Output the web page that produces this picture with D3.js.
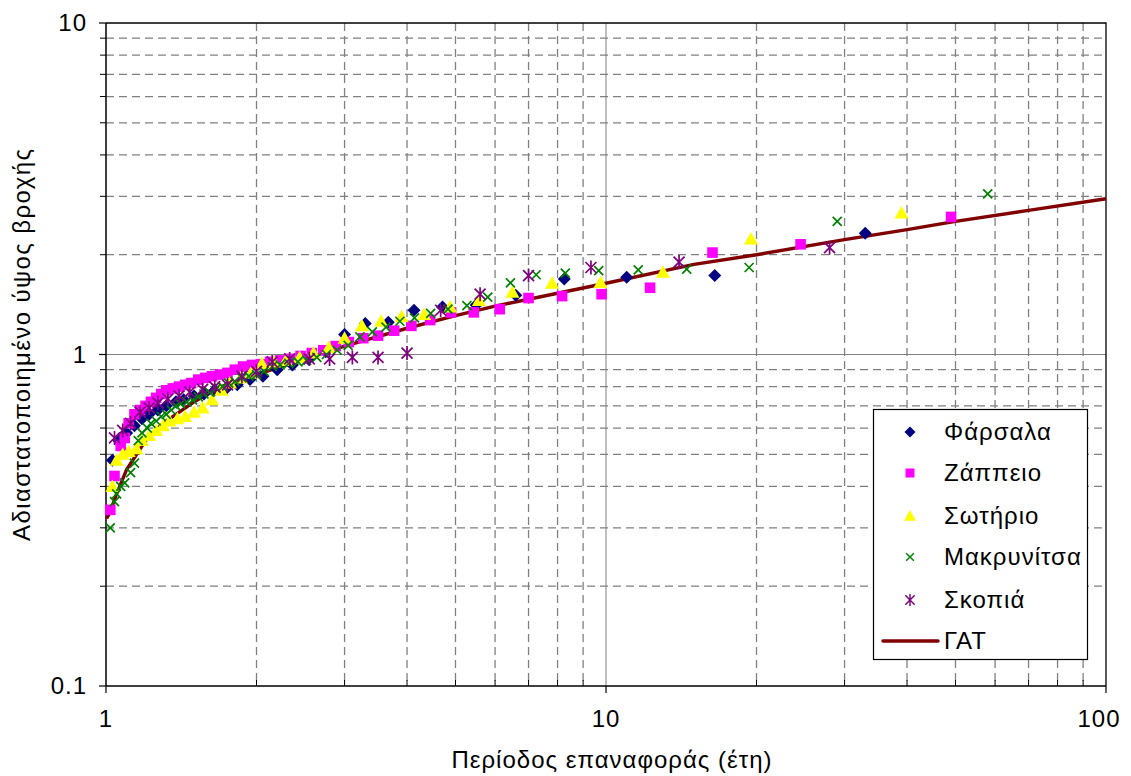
<!DOCTYPE html>
<html>
<head>
<meta charset="utf-8">
<script src="https://cdn.jsdelivr.net/npm/d3@7"></script>
<style>
  html, body { margin: 0; padding: 0; background: #fff; }
  svg { display: block; font-family: "Liberation Sans", Arial, sans-serif; }
  svg text { letter-spacing: 1px; }
</style>
</head>
<body>
<svg id="chart" width="1131" height="776"></svg>
<script>
// Return period (years) and dimensionless rainfall depth for each station
const farsalaT = [33, 16.5, 11, 8.25, 6.6, 5.5, 4.71, 4.13, 3.67, 3.3, 3.0, 2.75, 2.54, 2.36, 2.2, 2.06, 1.94, 1.83, 1.74, 1.65, 1.57, 1.5, 1.43, 1.38, 1.32, 1.27, 1.22, 1.18, 1.14, 1.1, 1.06, 1.03];
const farsalaV = [2.32, 1.73, 1.71, 1.69, 1.51, 1.41, 1.39, 1.36, 1.25, 1.24, 1.15, 1.02, 0.97, 0.93, 0.9, 0.86, 0.84, 0.81, 0.79, 0.78, 0.76, 0.75, 0.73, 0.72, 0.7, 0.68, 0.66, 0.64, 0.61, 0.58, 0.55, 0.48];

const zappeioT = [49, 24.5, 16.33, 12.25, 9.8, 8.17, 7.0, 6.13, 5.44, 4.9, 4.45, 4.08, 3.77, 3.5, 3.27, 3.06, 2.88, 2.72, 2.58, 2.45, 2.33, 2.23, 2.13, 2.04, 1.96, 1.88, 1.81, 1.75, 1.69, 1.63, 1.58, 1.53, 1.48, 1.44, 1.4, 1.36, 1.32, 1.29, 1.26, 1.23, 1.2, 1.17, 1.14, 1.11, 1.09, 1.07, 1.04, 1.02];
const zappeioV = [2.6, 2.15, 2.03, 1.59, 1.52, 1.5, 1.48, 1.37, 1.34, 1.34, 1.27, 1.22, 1.18, 1.14, 1.12, 1.09, 1.06, 1.03, 1.01, 0.99, 0.97, 0.96, 0.95, 0.935, 0.93, 0.92, 0.9, 0.88, 0.87, 0.86, 0.85, 0.84, 0.82, 0.81, 0.8, 0.79, 0.78, 0.76, 0.74, 0.72, 0.7, 0.68, 0.66, 0.62, 0.56, 0.53, 0.43, 0.34];

const sotirioT = [39, 19.5, 13, 9.75, 7.8, 6.5, 5.57, 4.88, 4.33, 3.9, 3.55, 3.25, 3.0, 2.79, 2.6, 2.44, 2.29, 2.17, 2.05, 1.95, 1.86, 1.77, 1.7, 1.63, 1.56, 1.5, 1.44, 1.39, 1.34, 1.3, 1.26, 1.22, 1.18, 1.15, 1.11, 1.08, 1.05, 1.03];
const sotirioV = [2.67, 2.23, 1.77, 1.65, 1.64, 1.54, 1.455, 1.39, 1.32, 1.3, 1.26, 1.22, 1.12, 1.05, 1.01, 0.98, 0.96, 0.95, 0.94, 0.88, 0.85, 0.82, 0.78, 0.73, 0.69, 0.67, 0.65, 0.64, 0.63, 0.61, 0.59, 0.57, 0.55, 0.52, 0.51, 0.5, 0.48, 0.4];

const makrynitsaT = [58, 29, 19.33, 14.5, 11.6, 9.67, 8.29, 7.25, 6.44, 5.8, 5.27, 4.83, 4.46, 4.14, 3.87, 3.63, 3.41, 3.22, 3.05, 2.9, 2.76, 2.64, 2.52, 2.42, 2.32, 2.23, 2.15, 2.07, 2.0, 1.93, 1.87, 1.81, 1.76, 1.71, 1.66, 1.61, 1.57, 1.53, 1.49, 1.45, 1.41, 1.38, 1.35, 1.32, 1.29, 1.26, 1.23, 1.21, 1.18, 1.16, 1.14, 1.12, 1.09, 1.07, 1.05, 1.04, 1.02];
const makrynitsaV = [3.05, 2.52, 1.83, 1.81, 1.8, 1.79, 1.76, 1.74, 1.645, 1.49, 1.405, 1.37, 1.33, 1.29, 1.26, 1.21, 1.17, 1.13, 1.065, 1.03, 1.0, 0.98, 0.96, 0.95, 0.94, 0.93, 0.92, 0.89, 0.87, 0.86, 0.85, 0.83, 0.82, 0.8, 0.79, 0.77, 0.76, 0.745, 0.73, 0.72, 0.71, 0.7, 0.68, 0.66, 0.65, 0.63, 0.62, 0.6, 0.58, 0.55, 0.47, 0.44, 0.41, 0.4, 0.38, 0.36, 0.3];

const skopiaT = [28, 14, 9.33, 7, 5.6, 4.67, 4, 3.5, 3.11, 2.8, 2.55, 2.33, 2.15, 2.0, 1.87, 1.75, 1.65, 1.56, 1.47, 1.4, 1.33, 1.27, 1.22, 1.17, 1.12, 1.08, 1.04];
const skopiaV = [2.1, 1.9, 1.83, 1.73, 1.52, 1.36, 1.01, 0.98, 0.98, 0.97, 0.97, 0.97, 0.95, 0.89, 0.86, 0.81, 0.8, 0.785, 0.77, 0.75, 0.735, 0.715, 0.69, 0.67, 0.62, 0.59, 0.56];

// Fitted GEV (ΓΑΤ) distribution curve
const gevT = [1.003, 1.02, 1.05, 1.1, 1.2, 1.3, 1.5, 1.7, 2, 2.5, 3, 4, 5, 6, 8, 10, 15, 20, 30, 40, 50, 70, 100];
const gevV = [0.32, 0.335, 0.38, 0.45, 0.55, 0.62, 0.72, 0.8, 0.87, 0.97, 1.06, 1.2, 1.31, 1.4, 1.53, 1.64, 1.87, 2.0, 2.22, 2.38, 2.52, 2.72, 2.95];

// Axis tick labels
const xTickValues = [1, 10, 100];
const xTickLabels = ["1", "10", "100"];
const yTickValues = [0.1, 1, 10];
const yTickLabels = ["0.1", "1", "10"];

const seriesNames = ["Φάρσαλα", "Ζάππειο", "Σωτήριο", "Μακρυνίτσα", "Σκοπιά"];
const gevName = "ΓΑΤ";
const xTitle = "Περίοδος επαναφοράς (έτη)";
const yTitle = "Αδιαστατοποιημένο ύψος βροχής";

// ---- layout ----
const svg = d3.select("#chart");
const W = 1131, H = 776;
const plot = { left: 106, right: 1106, top: 23, bottom: 686 };
const FS = 24;

svg.append("rect").attr("width", W).attr("height", H).attr("fill", "#fff");

const x = d3.scaleLog().domain([1, 100]).range([plot.left, plot.right]);
const y = d3.scaleLog().domain([0.1, 10]).range([plot.bottom, plot.top]);

const minorX = [2,3,4,5,6,7,8,9,20,30,40,50,60,70,80,90];
const minorY = [0.2,0.3,0.4,0.5,0.6,0.7,0.8,0.9,2,3,4,5,6,7,8,9];

// ---- gridlines ----
const grid = svg.append("g");
grid.selectAll(".gx").data(minorX).join("line")
  .attr("x1", d => x(d)).attr("x2", d => x(d))
  .attr("y1", plot.top).attr("y2", plot.bottom)
  .attr("stroke", "#808080").attr("stroke-width", 1.3).attr("stroke-dasharray", "8,5");
grid.selectAll(".gy").data(minorY).join("line")
  .attr("x1", plot.left).attr("x2", plot.right)
  .attr("y1", d => y(d)).attr("y2", d => y(d))
  .attr("stroke", "#808080").attr("stroke-width", 1.3).attr("stroke-dasharray", "8,5");
grid.append("line")
  .attr("x1", x(10)).attr("x2", x(10)).attr("y1", plot.top).attr("y2", plot.bottom)
  .attr("stroke", "#808080").attr("stroke-width", 1);
grid.append("line")
  .attr("x1", plot.left).attr("x2", plot.right).attr("y1", y(1)).attr("y2", y(1))
  .attr("stroke", "#808080").attr("stroke-width", 1);

// plot frame (top and right)
svg.append("path")
  .attr("d", `M${plot.left},${plot.top}H${plot.right}V${plot.bottom}`)
  .attr("fill", "none").attr("stroke", "#000").attr("stroke-width", 1.3);

// ---- axes ----
const xAxis = svg.append("g").attr("transform", `translate(0,${plot.bottom})`);
xAxis.append("line").attr("x1", plot.left).attr("x2", plot.right)
  .attr("stroke", "#000").attr("stroke-width", 1.5);
xAxis.selectAll(".xmaj").data(xTickValues).join("line")
  .attr("x1", d => x(d)).attr("x2", d => x(d)).attr("y1", 0).attr("y2", 7)
  .attr("stroke", "#000").attr("stroke-width", 1.2);
xAxis.selectAll(".xmin").data(minorX).join("line")
  .attr("x1", d => x(d)).attr("x2", d => x(d)).attr("y1", 0).attr("y2", -6)
  .attr("stroke", "#000").attr("stroke-width", 1);
xAxis.selectAll("text").data(xTickValues).join("text")
  .attr("x", (d, i) => i === 2 ? x(d) - 7 : x(d)).attr("y", 41)
  .attr("text-anchor", "middle").attr("font-size", FS).attr("fill", "#000")
  .text((d, i) => xTickLabels[i]);

const yAxis = svg.append("g").attr("transform", `translate(${plot.left},0)`);
yAxis.append("line").attr("y1", plot.top).attr("y2", plot.bottom)
  .attr("stroke", "#000").attr("stroke-width", 1.5);
yAxis.selectAll(".ymaj").data(yTickValues).join("line")
  .attr("y1", d => y(d)).attr("y2", d => y(d)).attr("x1", 0).attr("x2", -7)
  .attr("stroke", "#000").attr("stroke-width", 1.2);
yAxis.selectAll(".ymin").data(minorY).join("line")
  .attr("y1", d => y(d)).attr("y2", d => y(d)).attr("x1", 0).attr("x2", -6)
  .attr("stroke", "#000").attr("stroke-width", 1);
yAxis.selectAll("text").data(yTickValues).join("text")
  .attr("x", -19).attr("y", d => y(d)).attr("dy", "0.35em")
  .attr("text-anchor", "end").attr("font-size", FS).attr("fill", "#000")
  .text((d, i) => yTickLabels[i]);

// axis titles
svg.append("text").attr("x", 612).attr("y", 768)
  .attr("text-anchor", "middle").attr("font-size", FS).attr("fill", "#000")
  .text(xTitle);

// the vertical title box is narrower than the text, so its end is cut off
svg.append("clipPath").attr("id", "ytitle-clip")
  .append("rect").attr("x", 0).attr("y", 149).attr("width", 60).attr("height", 600);
svg.append("g").attr("clip-path", "url(#ytitle-clip)")
  .append("text")
  .attr("transform", `translate(30,541) rotate(-90)`)
  .attr("text-anchor", "start").attr("font-size", FS).attr("fill", "#000")
  .style("letter-spacing", "1.4px")
  .text(yTitle);

// ---- fitted curve ----
const gevData = gevT.map((t, i) => [t, gevV[i]]);
svg.append("path").datum(gevData)
  .attr("fill", "none").attr("stroke", "#800000").attr("stroke-width", 3.4)
  .attr("stroke-linejoin", "round")
  .attr("d", d3.line().x(d => x(d[0])).y(d => y(d[1])));

// ---- marker shapes ----
const markers = {
  diamond: g => g.append("path").attr("d", "M0,-6.5L6.5,0L0,6.5L-6.5,0Z").attr("fill", "#000080"),
  square: g => g.append("path").attr("d", "M-5.3,-5.3H5.3V5.3H-5.3Z").attr("fill", "#ff00ff"),
  triangle: g => g.append("path").attr("d", "M0,-7L7,5.5L-7,5.5Z").attr("fill", "#ffff00"),
  cross: g => g.append("path").attr("d", "M-4.5,-4.5L4.5,4.5M-4.5,4.5L4.5,-4.5")
    .attr("stroke", "#008000").attr("stroke-width", 1.7).attr("fill", "none"),
  star: g => g.append("path").attr("d", "M-5.5,-5.5L5.5,5.5M-5.5,5.5L5.5,-5.5M0,-7V7")
    .attr("stroke", "#800080").attr("stroke-width", 1.7).attr("fill", "none")
};

const series = [
  { name: seriesNames[0], T: farsalaT, V: farsalaV, shape: "diamond" },
  { name: seriesNames[1], T: zappeioT, V: zappeioV, shape: "square" },
  { name: seriesNames[2], T: sotirioT, V: sotirioV, shape: "triangle" },
  { name: seriesNames[3], T: makrynitsaT, V: makrynitsaV, shape: "cross" },
  { name: seriesNames[4], T: skopiaT, V: skopiaV, shape: "star" }
];

series.forEach(s => {
  const pts = s.T.map((t, i) => [t, s.V[i]]);
  svg.append("g").selectAll("g").data(pts).join("g")
    .attr("transform", d => `translate(${x(d[0])},${y(d[1])})`)
    .each(function () { markers[s.shape](d3.select(this)); });
});

// ---- legend ----
const legend = svg.append("g");
legend.append("rect").attr("x", 873.5).attr("y", 409.5).attr("width", 214).attr("height", 250)
  .attr("fill", "#fff").attr("stroke", "#000").attr("stroke-width", 1.2);
const rowY = [432, 473, 516, 557, 600, 641];
series.forEach((s, i) => {
  const g = legend.append("g").attr("transform", `translate(910,${rowY[i]}) scale(0.85)`);
  markers[s.shape](g);
  legend.append("text").attr("x", 944).attr("y", rowY[i]).attr("dy", "0.35em")
    .attr("font-size", FS).attr("fill", "#000").text(s.name);
});
legend.append("line").attr("x1", 883).attr("x2", 938).attr("y1", rowY[5]).attr("y2", rowY[5])
  .attr("stroke", "#800000").attr("stroke-width", 3.4).attr("stroke-linecap", "round");
legend.append("text").attr("x", 944).attr("y", rowY[5]).attr("dy", "0.35em")
  .attr("font-size", FS).attr("fill", "#000").text(gevName);
</script>
</body>
</html>
